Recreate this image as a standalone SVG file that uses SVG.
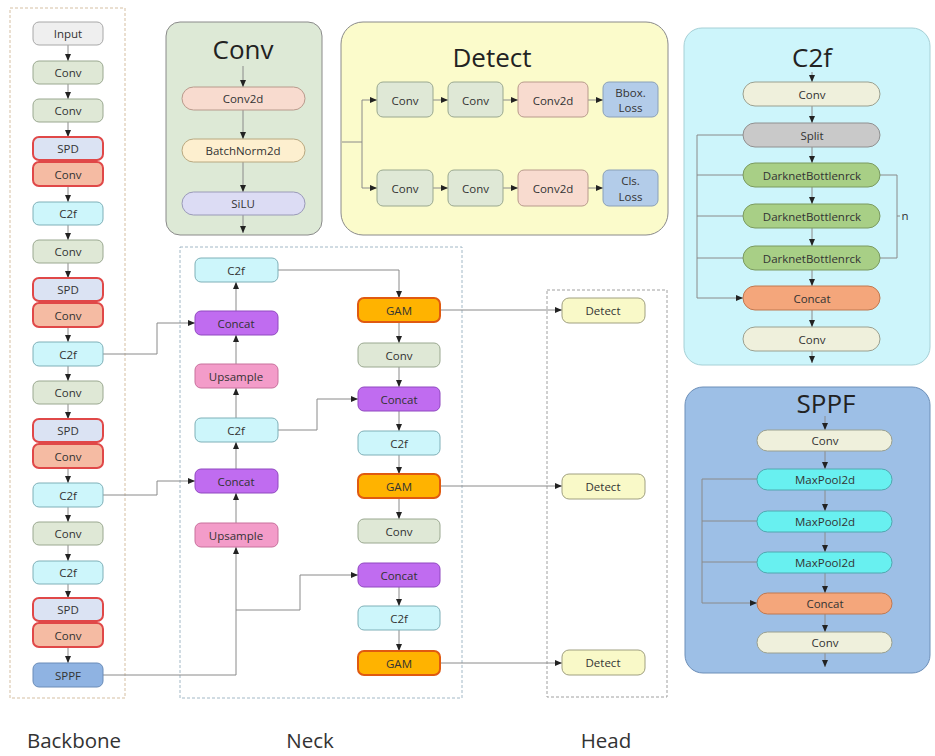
<svg xmlns="http://www.w3.org/2000/svg" width="935" height="756" viewBox="0 0 935 756">
<defs>
<marker id="ah" markerWidth="7" markerHeight="6" refX="7" refY="3" orient="auto" markerUnits="userSpaceOnUse">
<path d="M0,0 L7,3 L0,6 z" fill="#222"/>
</marker>
<style>
text{font-family:"Open Sans","Liberation Sans",sans-serif;fill:#333;text-anchor:middle;dominant-baseline:central}
.t{font-size:11.5px}
.title{font-size:26px;fill:#222}
.lab{font-size:20.5px;fill:#333}
.c{fill:none;stroke:#8a8a8a;stroke-width:1}
.a{fill:none;stroke:#8a8a8a;stroke-width:1;marker-end:url(#ah)}
.inp{fill:#efefef;stroke:#a8a8a8}
.conv{fill:#dfe8d6;stroke:#9aa890}
.spd{fill:#dbe3f3;stroke:#e04848;stroke-width:2}
.sconv{fill:#f5bba3;stroke:#e04848;stroke-width:2}
.c2f{fill:#cdf6fb;stroke:#7fb0b8}
.sppf{fill:#8fb3e2;stroke:#6a8cb8}
.concat{fill:#c06cf0;stroke:#9048c0}
.ups{fill:#f39cc9;stroke:#c8709c}
.gam{fill:#ffb300;stroke:#e05a10;stroke-width:2}
.det{fill:#f9f9c8;stroke:#a0a080}
.conv2d{fill:#f8dbcf;stroke:#b89a8c}
.bn{fill:#fdefcf;stroke:#b8a880}
.silu{fill:#dcdcf4;stroke:#9a9ab8}
.loss{fill:#b3cce9;stroke:#8aa0b8}
.cream{fill:#eff0dc;stroke:#9aa090}
.split{fill:#c9c9c9;stroke:#909090}
.dbn{fill:#a8cf86;stroke:#7a9a60}
.ccat{fill:#f4a67b;stroke:#c07850}
.mp{fill:#68f0f0;stroke:#50a8b0}
</style>
</defs>

<!-- group frames -->
<g id="frames">
<rect x="10" y="8" width="115" height="690" fill="none" stroke="#d5bfa2" stroke-dasharray="3,2"/>
<rect x="180" y="247" width="282" height="451" fill="none" stroke="#a2b8c6" stroke-dasharray="3,2"/>
<rect x="547" y="290" width="120" height="407" fill="none" stroke="#a0a0a0" stroke-dasharray="3,2"/>
</g>

<!-- panels -->
<g id="panel-conv">
<rect x="166" y="22" width="156" height="213" rx="14" fill="#dde9d6" stroke="#8a8a8a"/>
<text class="title" x="243" y="49">Conv</text>
</g>
<g id="panel-detect">
<rect x="341" y="22" width="327" height="213" rx="22" fill="#fbfbcb" stroke="#8a8a8a"/>
<text class="title" x="492" y="57">Detect</text>
</g>
<g id="panel-c2f">
<rect x="684" y="28" width="246" height="337" rx="18" fill="#cdf5fb" stroke="#a6d0d6"/>
<text class="title" x="812" y="57">C2f</text>
</g>
<g id="panel-sppf">
<rect x="685" y="387" width="245" height="286" rx="18" fill="#9dbfe6" stroke="#6d8fb8"/>
<text class="title" x="826" y="403">SPPF</text>
</g>

<!-- connectors -->
<g id="connectors">
<!-- backbone -->
<path class="a" d="M68,45 V61"/>
<path class="a" d="M68,84 V99"/>
<path class="a" d="M68,122 V137"/>
<path class="a" d="M68,186 V202"/>
<path class="a" d="M68,225 V240"/>
<path class="a" d="M68,263 V278"/>
<path class="a" d="M68,327 V342"/>
<path class="a" d="M68,366 V381"/>
<path class="a" d="M68,404 V419"/>
<path class="a" d="M68,468 V483"/>
<path class="a" d="M68,507 V522"/>
<path class="a" d="M68,545 V561"/>
<path class="a" d="M68,584 V598"/>
<path class="a" d="M68,647 V663"/>
<!-- backbone to neck -->
<path class="a" d="M103,354 H157 V323 H195"/>
<path class="a" d="M103,495 H157 V481 H195"/>
<path class="a" d="M103,675 H236 V547"/>
<path class="a" d="M236,610 H300 V575 H358"/>
<!-- neck left column -->
<path class="a" d="M236,523 V493"/>
<path class="a" d="M236,469 V442"/>
<path class="a" d="M236,418 V388"/>
<path class="a" d="M236,364 V335"/>
<path class="a" d="M236,311 V282"/>
<path class="a" d="M278,430 H317 V399 H358"/>
<path class="a" d="M278,270 H399 V298"/>
<!-- neck right column -->
<path class="a" d="M399,322 V343"/>
<path class="a" d="M399,367 V387"/>
<path class="a" d="M399,411 V431"/>
<path class="a" d="M399,455 V474"/>
<path class="a" d="M399,498 V519"/>
<path class="a" d="M399,587 V606"/>
<path class="a" d="M399,630 V651"/>
<!-- to head -->
<path class="a" d="M440,310 H562"/>
<path class="a" d="M440,486 H562"/>
<path class="a" d="M440,663 H562"/>
<!-- conv panel -->
<path class="a" d="M243,66 V87"/>
<path class="a" d="M243,110 V139"/>
<path class="a" d="M243,162 V192"/>
<path class="a" d="M243,215 V233"/>
<!-- detect panel -->
<path class="c" d="M342,142 H362 M362,100 V188"/>
<path class="a" d="M362,100 H377"/>
<path class="a" d="M362,188 H377"/>
<path class="a" d="M433,100 H448"/>
<path class="a" d="M503,100 H518"/>
<path class="a" d="M588,100 H603"/>
<path class="a" d="M433,188 H448"/>
<path class="a" d="M503,188 H518"/>
<path class="a" d="M588,188 H603"/>
<!-- c2f panel -->
<path class="a" d="M812,72 V82"/>
<path class="a" d="M812,106 V123"/>
<path class="a" d="M812,147 V163"/>
<path class="a" d="M812,187 V204"/>
<path class="a" d="M812,228 V246"/>
<path class="a" d="M812,270 V286"/>
<path class="a" d="M812,310 V327"/>
<path class="a" d="M812,351 V363"/>
<path class="c" d="M743,135 H697 V298 M743,175 H697 M743,216 H697 M743,258 H697"/>
<path class="a" d="M697,298 H743"/>
<path class="c" d="M880,175 H897 V258 H880 M897,216 H900"/>
<!-- sppf panel -->
<path class="a" d="M825,416 V430"/>
<path class="a" d="M825,451 V469"/>
<path class="a" d="M825,490 V511"/>
<path class="a" d="M825,532 V552"/>
<path class="a" d="M825,573 V593"/>
<path class="a" d="M825,614 V632"/>
<path class="a" d="M825,653 V667"/>
<path class="c" d="M757,479 H702 V603 M757,521 H702 M757,562 H702"/>
<path class="a" d="M702,603 H757"/>
</g>

<!-- backbone nodes -->
<g id="bb-input"><rect class="inp" x="33" y="22" width="70" height="23" rx="6"/><text class="t" x="68" y="33.5">Input</text></g>
<g id="bb-conv1"><rect class="conv" x="33" y="61" width="70" height="23" rx="6"/><text class="t" x="68" y="72.5">Conv</text></g>
<g id="bb-conv2"><rect class="conv" x="33" y="99" width="70" height="23" rx="6"/><text class="t" x="68" y="110.5">Conv</text></g>
<g id="bb-spd1"><rect class="spd" x="33" y="137" width="70" height="23" rx="6"/><text class="t" x="68" y="148.5">SPD</text></g>
<g id="bb-sconv1"><rect class="sconv" x="33" y="162" width="70" height="24" rx="6"/><text class="t" x="68" y="174">Conv</text></g>
<g id="bb-c2f1"><rect class="c2f" x="33" y="202" width="70" height="23" rx="6"/><text class="t" x="68" y="213.5">C2f</text></g>
<g id="bb-conv3"><rect class="conv" x="33" y="240" width="70" height="23" rx="6"/><text class="t" x="68" y="251.5">Conv</text></g>
<g id="bb-spd2"><rect class="spd" x="33" y="278" width="70" height="23" rx="6"/><text class="t" x="68" y="289.5">SPD</text></g>
<g id="bb-sconv2"><rect class="sconv" x="33" y="303" width="70" height="24" rx="6"/><text class="t" x="68" y="315">Conv</text></g>
<g id="bb-c2f2"><rect class="c2f" x="33" y="342" width="70" height="24" rx="6"/><text class="t" x="68" y="354">C2f</text></g>
<g id="bb-conv4"><rect class="conv" x="33" y="381" width="70" height="23" rx="6"/><text class="t" x="68" y="392.5">Conv</text></g>
<g id="bb-spd3"><rect class="spd" x="33" y="419" width="70" height="23" rx="6"/><text class="t" x="68" y="430.5">SPD</text></g>
<g id="bb-sconv3"><rect class="sconv" x="33" y="444" width="70" height="24" rx="6"/><text class="t" x="68" y="456">Conv</text></g>
<g id="bb-c2f3"><rect class="c2f" x="33" y="483" width="70" height="24" rx="6"/><text class="t" x="68" y="495">C2f</text></g>
<g id="bb-conv5"><rect class="conv" x="33" y="522" width="70" height="23" rx="6"/><text class="t" x="68" y="533.5">Conv</text></g>
<g id="bb-c2f4"><rect class="c2f" x="33" y="561" width="70" height="23" rx="6"/><text class="t" x="68" y="572.5">C2f</text></g>
<g id="bb-spd4"><rect class="spd" x="33" y="598" width="70" height="23" rx="6"/><text class="t" x="68" y="609.5">SPD</text></g>
<g id="bb-sconv4"><rect class="sconv" x="33" y="623" width="70" height="24" rx="6"/><text class="t" x="68" y="635">Conv</text></g>
<g id="bb-sppf"><rect class="sppf" x="33" y="663" width="70" height="24" rx="6"/><text class="t" x="68" y="675">SPPF</text></g>

<!-- neck nodes -->
<g id="nk-c2f1"><rect class="c2f" x="195" y="258" width="83" height="24" rx="6"/><text class="t" x="236" y="270">C2f</text></g>
<g id="nk-concat1"><rect class="concat" x="195" y="311" width="83" height="24" rx="6"/><text class="t" x="236" y="323">Concat</text></g>
<g id="nk-ups1"><rect class="ups" x="195" y="364" width="83" height="24" rx="6"/><text class="t" x="236" y="376">Upsample</text></g>
<g id="nk-c2f2"><rect class="c2f" x="195" y="418" width="83" height="24" rx="6"/><text class="t" x="236" y="430">C2f</text></g>
<g id="nk-concat2"><rect class="concat" x="195" y="469" width="83" height="24" rx="6"/><text class="t" x="236" y="481">Concat</text></g>
<g id="nk-ups2"><rect class="ups" x="195" y="523" width="83" height="24" rx="6"/><text class="t" x="236" y="535">Upsample</text></g>
<g id="nk-gam1"><rect class="gam" x="358" y="298" width="82" height="24" rx="6"/><text class="t" x="399" y="310">GAM</text></g>
<g id="nk-conv1"><rect class="conv" x="358" y="343" width="82" height="24" rx="6"/><text class="t" x="399" y="355">Conv</text></g>
<g id="nk-concat3"><rect class="concat" x="358" y="387" width="82" height="24" rx="6"/><text class="t" x="399" y="399">Concat</text></g>
<g id="nk-c2f3"><rect class="c2f" x="358" y="431" width="82" height="24" rx="6"/><text class="t" x="399" y="443">C2f</text></g>
<g id="nk-gam2"><rect class="gam" x="358" y="474" width="82" height="24" rx="6"/><text class="t" x="399" y="486">GAM</text></g>
<g id="nk-conv2"><rect class="conv" x="358" y="519" width="82" height="24" rx="6"/><text class="t" x="399" y="531">Conv</text></g>
<g id="nk-concat4"><rect class="concat" x="358" y="563" width="82" height="24" rx="6"/><text class="t" x="399" y="575">Concat</text></g>
<g id="nk-c2f4"><rect class="c2f" x="358" y="606" width="82" height="24" rx="6"/><text class="t" x="399" y="618">C2f</text></g>
<g id="nk-gam3"><rect class="gam" x="358" y="651" width="82" height="24" rx="6"/><text class="t" x="399" y="663">GAM</text></g>

<!-- head nodes -->
<g id="hd-det1"><rect class="det" x="562" y="298" width="83" height="25" rx="7"/><text class="t" x="603" y="310.5">Detect</text></g>
<g id="hd-det2"><rect class="det" x="562" y="474" width="83" height="25" rx="7"/><text class="t" x="603" y="486.5">Detect</text></g>
<g id="hd-det3"><rect class="det" x="562" y="650" width="83" height="25" rx="7"/><text class="t" x="603" y="662.5">Detect</text></g>

<!-- conv panel nodes -->
<g id="cv-conv2d"><rect class="conv2d" x="182" y="87" width="123" height="23" rx="11.5"/><text class="t" x="243" y="98.5">Conv2d</text></g>
<g id="cv-bn"><rect class="bn" x="182" y="139" width="123" height="23" rx="11.5"/><text class="t" x="243" y="150.5">BatchNorm2d</text></g>
<g id="cv-silu"><rect class="silu" x="182" y="192" width="123" height="23" rx="11.5"/><text class="t" x="243" y="203.5">SiLU</text></g>

<!-- detect panel nodes -->
<g id="dt-conv1"><rect class="conv" x="377" y="82" width="56" height="35" rx="6"/><text class="t" x="405" y="100">Conv</text></g>
<g id="dt-conv2"><rect class="conv" x="448" y="82" width="55" height="35" rx="6"/><text class="t" x="475.5" y="100">Conv</text></g>
<g id="dt-conv2d1"><rect class="conv2d" x="518" y="82" width="70" height="35" rx="6"/><text class="t" x="553" y="100">Conv2d</text></g>
<g id="dt-bbox"><rect class="loss" x="603" y="82" width="55" height="35" rx="6"/><text class="t" x="630.5" y="92">Bbox.</text><text class="t" x="630.5" y="107">Loss</text></g>
<g id="dt-conv3"><rect class="conv" x="377" y="170" width="56" height="36" rx="6"/><text class="t" x="405" y="188">Conv</text></g>
<g id="dt-conv4"><rect class="conv" x="448" y="170" width="55" height="36" rx="6"/><text class="t" x="475.5" y="188">Conv</text></g>
<g id="dt-conv2d2"><rect class="conv2d" x="518" y="170" width="70" height="36" rx="6"/><text class="t" x="553" y="188">Conv2d</text></g>
<g id="dt-cls"><rect class="loss" x="603" y="170" width="55" height="36" rx="6"/><text class="t" x="630.5" y="180">Cls.</text><text class="t" x="630.5" y="196">Loss</text></g>

<!-- c2f panel nodes -->
<g id="cf-conv1"><rect class="cream" x="743" y="82" width="137" height="24" rx="12"/><text class="t" x="812" y="94">Conv</text></g>
<g id="cf-split"><rect class="split" x="743" y="123" width="137" height="24" rx="12"/><text class="t" x="812" y="135">Split</text></g>
<g id="cf-db1"><rect class="dbn" x="743" y="163" width="137" height="24" rx="12"/><text class="t" x="812" y="175">DarknetBottlenrck</text></g>
<g id="cf-db2"><rect class="dbn" x="743" y="204" width="137" height="24" rx="12"/><text class="t" x="812" y="216">DarknetBottlenrck</text></g>
<g id="cf-db3"><rect class="dbn" x="743" y="246" width="137" height="24" rx="12"/><text class="t" x="812" y="258">DarknetBottlenrck</text></g>
<g id="cf-concat"><rect class="ccat" x="743" y="286" width="137" height="24" rx="12"/><text class="t" x="812" y="298">Concat</text></g>
<g id="cf-conv2"><rect class="cream" x="743" y="327" width="137" height="24" rx="12"/><text class="t" x="812" y="339">Conv</text></g>
<text class="t" x="905" y="215">n</text>

<!-- sppf panel nodes -->
<g id="sp-conv1"><rect class="cream" x="757" y="430" width="135" height="21" rx="10.5"/><text class="t" x="825" y="440.5">Conv</text></g>
<g id="sp-mp1"><rect class="mp" x="757" y="469" width="135" height="21" rx="10.5"/><text class="t" x="825" y="479.5">MaxPool2d</text></g>
<g id="sp-mp2"><rect class="mp" x="757" y="511" width="135" height="21" rx="10.5"/><text class="t" x="825" y="521.5">MaxPool2d</text></g>
<g id="sp-mp3"><rect class="mp" x="757" y="552" width="135" height="21" rx="10.5"/><text class="t" x="825" y="562.5">MaxPool2d</text></g>
<g id="sp-concat"><rect class="ccat" x="757" y="593" width="135" height="21" rx="10.5"/><text class="t" x="825" y="603.5">Concat</text></g>
<g id="sp-conv2"><rect class="cream" x="757" y="632" width="135" height="21" rx="10.5"/><text class="t" x="825" y="642.5">Conv</text></g>

<!-- section labels -->
<g id="labels">
<text class="lab" x="74" y="740">Backbone</text>
<text class="lab" x="310" y="740">Neck</text>
<text class="lab" x="606" y="740">Head</text>
</g>
</svg>
